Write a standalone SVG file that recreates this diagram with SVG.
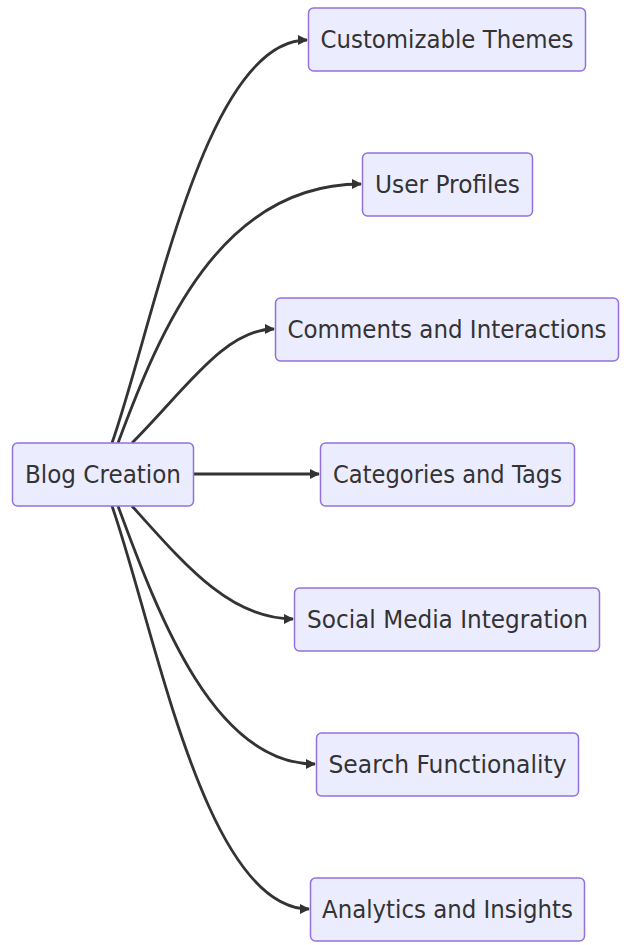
<svg xmlns="http://www.w3.org/2000/svg" width="628" height="945" viewBox="0 0 628 945">
<defs>
<style>
.node rect{fill:#ECECFF;stroke:#9370DB;stroke-width:1.5px}
.node text{font-family:"DejaVu Sans","Liberation Sans",sans-serif;font-size:24px;fill:#333333;text-anchor:middle}
.edge{fill:none;stroke:#333333;stroke-width:2.8px}
</style>
<marker id="arrow" viewBox="0 0 10 10" refX="9" refY="5" markerUnits="userSpaceOnUse" markerWidth="11" markerHeight="10" orient="auto">
<path d="M0,0 L10,5 L0,10 z" fill="#333333"/>
</marker>
</defs>
<rect width="628" height="945" fill="#ffffff"/>
<g id="connectors">
<path class="edge" d="M112,443 C155,320 205,40 307,40" marker-end="url(#arrow)"/>
<path class="edge" d="M118,443 C160,330 220,184 361,184" marker-end="url(#arrow)"/>
<path class="edge" d="M132,443 C185,390 225,329 274,329" marker-end="url(#arrow)"/>
<path class="edge" d="M194,474 L319,474" marker-end="url(#arrow)"/>
<path class="edge" d="M132,506 C185,565 230,619 293,619" marker-end="url(#arrow)"/>
<path class="edge" d="M118,506 C160,620 215,764 315,764" marker-end="url(#arrow)"/>
<path class="edge" d="M112,506 C155,629 205,909 309,909" marker-end="url(#arrow)"/>
</g>
<g id="blog-creation" class="node">
<rect x="12.5" y="443" width="181" height="63" rx="5"/>
<text x="103" y="483" textLength="156" lengthAdjust="spacingAndGlyphs">Blog Creation</text>
</g>
<g id="customizable-themes" class="node">
<rect x="308.5" y="8" width="277" height="63" rx="5"/>
<text x="447" y="48" textLength="253" lengthAdjust="spacingAndGlyphs">Customizable Themes</text>
</g>
<g id="user-profiles" class="node">
<rect x="362.5" y="153" width="170" height="63" rx="5"/>
<text x="447.5" y="193" textLength="145" lengthAdjust="spacingAndGlyphs">User Profiles</text>
</g>
<g id="comments-interactions" class="node">
<rect x="275.5" y="298" width="343" height="63" rx="5"/>
<text x="447" y="338" textLength="319" lengthAdjust="spacingAndGlyphs">Comments and Interactions</text>
</g>
<g id="categories-tags" class="node">
<rect x="320.5" y="443" width="254" height="63" rx="5"/>
<text x="447.5" y="483" textLength="229" lengthAdjust="spacingAndGlyphs">Categories and Tags</text>
</g>
<g id="social-media" class="node">
<rect x="294.5" y="588" width="305" height="63" rx="5"/>
<text x="447.5" y="628" textLength="281" lengthAdjust="spacingAndGlyphs">Social Media Integration</text>
</g>
<g id="search" class="node">
<rect x="316.5" y="733" width="262" height="63" rx="5"/>
<text x="447.5" y="773" textLength="238" lengthAdjust="spacingAndGlyphs">Search Functionality</text>
</g>
<g id="analytics" class="node">
<rect x="310.5" y="878" width="274" height="63" rx="5"/>
<text x="447.5" y="918" textLength="251" lengthAdjust="spacingAndGlyphs">Analytics and Insights</text>
</g>
</svg>
